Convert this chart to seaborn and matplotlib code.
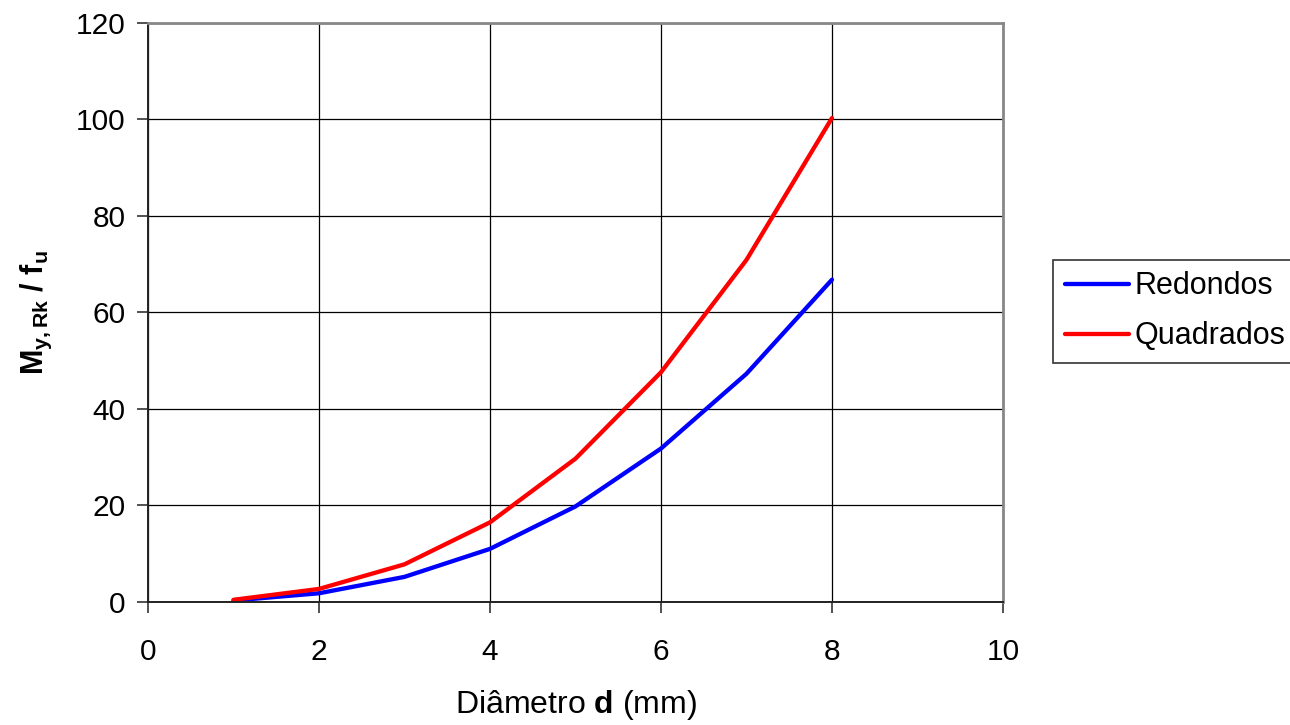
import matplotlib
matplotlib.use("Agg")
import matplotlib.pyplot as plt
import pandas as pd
import seaborn as sns

# Diameter d (mm) and M_y,Rk / f_u for round and square nails
diametro = [1, 2, 3, 4, 5, 6, 7, 8]
redondos = [0.3, 1.8, 5.2, 11.0, 19.8, 31.8, 47.3, 66.8]
quadrados = [0.45, 2.7, 7.8, 16.5, 29.7, 47.6, 70.9, 100.3]
series_names = ["Redondos", "Quadrados"]
x_ticks = [0, 2, 4, 6, 8, 10]
y_ticks = [0, 20, 40, 60, 80, 100, 120]

df = pd.DataFrame({
    "d": diametro * 2,
    "valor": redondos + quadrados,
    "serie": [series_names[0]] * len(diametro) + [series_names[1]] * len(diametro),
})

sns.set_theme(style="white")
plt.rcParams["font.family"] = ["Liberation Sans", "DejaVu Sans"]
plt.rcParams["mathtext.fontset"] = "custom"
plt.rcParams["mathtext.rm"] = "Liberation Sans"
plt.rcParams["mathtext.it"] = "Liberation Sans:italic"
plt.rcParams["mathtext.bf"] = "Liberation Sans:bold"
plt.rcParams["text.color"] = "black"
plt.rcParams["axes.labelcolor"] = "black"
plt.rcParams["xtick.color"] = "black"
plt.rcParams["ytick.color"] = "black"

fig = plt.figure(figsize=(12.9, 7.25), dpi=100)
ax = fig.add_axes([0.1147, 0.1697, 0.6628, 0.7986])

sns.lineplot(data=df, x="d", y="valor", hue="serie",
             palette={"Redondos": "#0000ff", "Quadrados": "#ff0000"},
             linewidth=3.1, ax=ax, legend=True)

ax.set_xlim(0, 10)
ax.set_ylim(0, 120)
ax.set_xticks(x_ticks)
ax.set_yticks(y_ticks)
ax.grid(True, color="black", linewidth=0.9)
ax.set_axisbelow(True)

for side in ["left", "bottom"]:
    ax.spines[side].set_color("#222222")
    ax.spines[side].set_linewidth(1.4)
for side in ["top", "right"]:
    ax.spines[side].set_color("#888888")
    ax.spines[side].set_linewidth(2.0)

ax.tick_params(axis="both", which="major", direction="out", length=8,
               width=1.2, color="#333333", labelsize=21.5, bottom=True, left=True)
ax.tick_params(axis="x", pad=18)
ax.tick_params(axis="y", pad=8)

ax.set_xlabel(r"Diâmetro $\mathbf{d}$ (mm)", fontsize=23, labelpad=16)
ax.set_ylabel(r"$\mathbf{M_{y,Rk}}$ / $\mathbf{f_u}$", fontsize=22,
              fontweight="bold", labelpad=16)

handles, labels = ax.get_legend_handles_labels()
leg = ax.legend(handles, labels, loc="center left",
                bbox_to_anchor=(1.0585, 0.502), fontsize=22, frameon=True,
                fancybox=False, edgecolor="black", handlelength=2.1,
                handletextpad=0.2, borderpad=0.38, labelspacing=0.65,
                borderaxespad=0)
leg.get_frame().set_linewidth(1.2)

fig.savefig("out.png", dpi=100)
